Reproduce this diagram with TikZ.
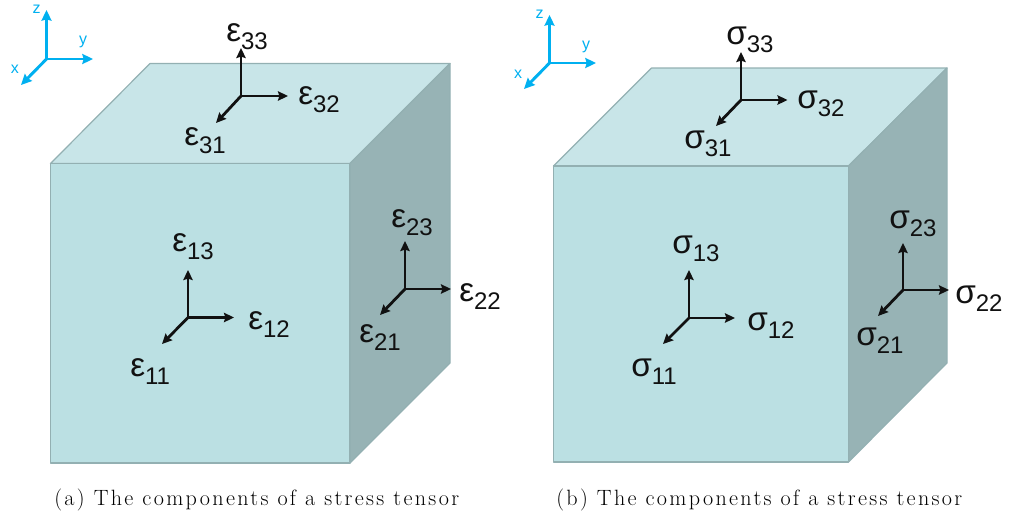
\documentclass[tikz,border=0pt]{standalone}
\usepackage{fontspec}
\usetikzlibrary{arrows.meta}
\newfontfamily\arialf{Liberation Sans}
\newfontfamily\capf[LetterSpace=10.5]{Latin Modern Roman}
\definecolor{frontc}{HTML}{BBE0E3}
\definecolor{topc}{HTML}{C8E5E8}
\definecolor{sidec}{HTML}{97B3B5}
\definecolor{edgec}{HTML}{93B0B2}
\definecolor{axisc}{HTML}{00B0F0}
\definecolor{inkc}{HTML}{111111}
\tikzset{
  face/.style={draw=edgec,line width=0.9pt,line join=round},
  tensorarrow/.style={draw=inkc,line width=2.1pt,-{Stealth[length=7.5pt,width=7pt,inset=1pt]}},
  axisarrow/.style={draw=axisc,line width=2.2pt,-{Stealth[length=8pt,width=7.5pt,inset=1pt]}},
  axislabel/.style={inner sep=0pt,text=axisc,font=\arialf\fontsize{12}{13}\selectfont},
  complabel/.style={inner sep=0pt,anchor=base west,text=inkc},
  capt/.style={inner sep=0pt,anchor=base west,font=\capf\fontsize{16.6}{18}\selectfont}
}
\newcommand{\comp}[2]{{\arialf\fontsize{25}{26}\selectfont #1\raisebox{-6pt}{\fontsize{18}{19}\selectfont #2}}}
% name, origin x,y, up tip y, right tip x, down-left tip x,y
\newcommand{\triad}[8]{%
  \coordinate (#1o) at (#2,#3);
  \coordinate (#1u) at (#2,#4);
  \coordinate (#1r) at (#5,#3);
  \coordinate (#1d) at (#6,#7);
  \draw[#8] (#1o) -- (#1u);
  \draw[#8] (#1o) -- (#1r);
  \draw[#8] (#1o) -- (#1d);
}
\begin{document}
\begin{tikzpicture}[x=0.75pt,y=-0.75pt]
\useasboundingbox (0,0) rectangle (1010,515);
% left cube
\coordinate (la) at (50.5,163.5);
\coordinate (lb) at (350,163.5);
\coordinate (lc) at (350,463);
\coordinate (ld) at (50.5,463);
\coordinate (le) at (150,63.5);
\coordinate (lf) at (450,63.5);
\coordinate (lg) at (450,363);
\filldraw[face,fill=topc] (la) -- (le) -- (lf) -- (lb) -- cycle;
\filldraw[face,fill=sidec] (lb) -- (lf) -- (lg) -- (lc) -- cycle;
\filldraw[face,fill=frontc] (la) -- (lb) -- (lc) -- (ld) -- cycle;
% right cube
\coordinate (ra) at (553.5,166);
\coordinate (rb) at (848.5,166);
\coordinate (rc) at (848.5,462);
\coordinate (rd) at (553.5,462);
\coordinate (re) at (651.5,68);
\coordinate (rf) at (947,68);
\coordinate (rg) at (947,363);
\filldraw[face,fill=topc] (ra) -- (re) -- (rf) -- (rb) -- cycle;
\filldraw[face,fill=sidec] (rb) -- (rf) -- (rg) -- (rc) -- cycle;
\filldraw[face,fill=frontc] (ra) -- (rb) -- (rc) -- (rd) -- cycle;
% axes
\triad{ax}{46.5}{59}{10}{93}{21}{85}{axisarrow}
\triad{bx}{549.5}{63}{15}{596}{524}{89}{axisarrow}
\node[axislabel] (lz) at (36.5,9) {z};
\node[axislabel] (ly) at (83,42) {y};
\node[axislabel] (lx) at (15,69) {x};
\node[axislabel] (mz) at (539.5,14) {z};
\node[axislabel] (my) at (586,47) {y};
\node[axislabel] (mx) at (518,74) {x};
% triads
\triad{lt}{241}{96}{48}{288}{216}{123}{tensorarrow}
\triad{lm}{188}{317.5}{270}{234}{162}{344}{tensorarrow}
\triad{ls}{405}{289}{241}{451}{380}{315}{tensorarrow}
\triad{rt}{741}{100}{52}{787.5}{716}{126}{tensorarrow}
\triad{rm}{689}{318}{270}{735}{663}{344}{tensorarrow}
\triad{rs}{903}{290}{243}{949}{878}{316}{tensorarrow}
% left labels
\node[complabel] (e33) at (226,41) {\comp{ε}{33}};
\node[complabel] (e32) at (298,104) {\comp{ε}{32}};
\node[complabel] (e31) at (184,145) {\comp{ε}{31}};
\node[complabel] (e13) at (172,251) {\comp{ε}{13}};
\node[complabel] (e23) at (391,227) {\comp{ε}{23}};
\node[complabel] (e12) at (248,329) {\comp{ε}{12}};
\node[complabel] (e11) at (130,376) {\comp{ε}{11}};
\node[complabel] (e22) at (459,301) {\comp{ε}{22}};
\node[complabel] (e21) at (359,342) {\comp{ε}{21}};
% right labels
\node[complabel] (s33) at (726,44) {\comp{σ}{33}};
\node[complabel] (s32) at (797,108) {\comp{σ}{32}};
\node[complabel] (s31) at (684,148) {\comp{σ}{31}};
\node[complabel] (s13) at (672,253) {\comp{σ}{13}};
\node[complabel] (s23) at (889,228) {\comp{σ}{23}};
\node[complabel] (s12) at (747,330) {\comp{σ}{12}};
\node[complabel] (s11) at (631,376) {\comp{σ}{11}};
\node[complabel] (s22) at (955,303) {\comp{σ}{22}};
\node[complabel] (s21) at (856,345) {\comp{σ}{21}};
% captions
\node[capt] (capa) at (54,505) {(a) The components of a stress tensor};
\node[capt] (capb) at (556,505) {(b) The components of a stress tensor};
\end{tikzpicture}
\end{document}
